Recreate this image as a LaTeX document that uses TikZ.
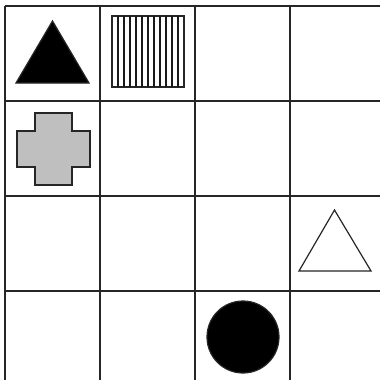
\documentclass[tikz,border=0pt]{standalone}
\begin{document}
\begin{tikzpicture}[x=1pt,y=-1pt,
  gridline/.style={line width=1.3pt,draw=black!85},
  shapeline/.style={line width=1.2pt,draw=black!85}]
\useasboundingbox (0,0) rectangle (380,380);
\clip (0,0) rectangle (380,380);
\fill[white] (0,0) rectangle (380,380);
% grid
\foreach \i in {0,...,4} {
  \draw[gridline] (5+95*\i,6) -- (5+95*\i,390);
  \draw[gridline] (5,6+95*\i) -- (390,6+95*\i);
}
% black triangle
\filldraw[shapeline,fill=black] (16,83) -- (89,83) -- (52.5,21) -- cycle;
% striped square
\draw[shapeline] (112,16) rectangle (184,87);
\foreach \k in {1,...,11} {
  \draw[line width=1.2pt,black!90] (112+6*\k,16) -- (112+6*\k,87);
}
% gray cross
\filldraw[shapeline,fill=black!25] (35,113) -- (72,113) -- (72,131) -- (90,131) -- (90,167) -- (72,167) -- (72,185) -- (35,185) -- (35,167) -- (17,167) -- (17,131) -- (35,131) -- cycle;
% white triangle
\filldraw[shapeline,fill=white] (299,271) -- (371,271) -- (334.5,210) -- cycle;
% black circle
\filldraw[shapeline,fill=black] (243,337) circle (36);
\end{tikzpicture}
\end{document}
